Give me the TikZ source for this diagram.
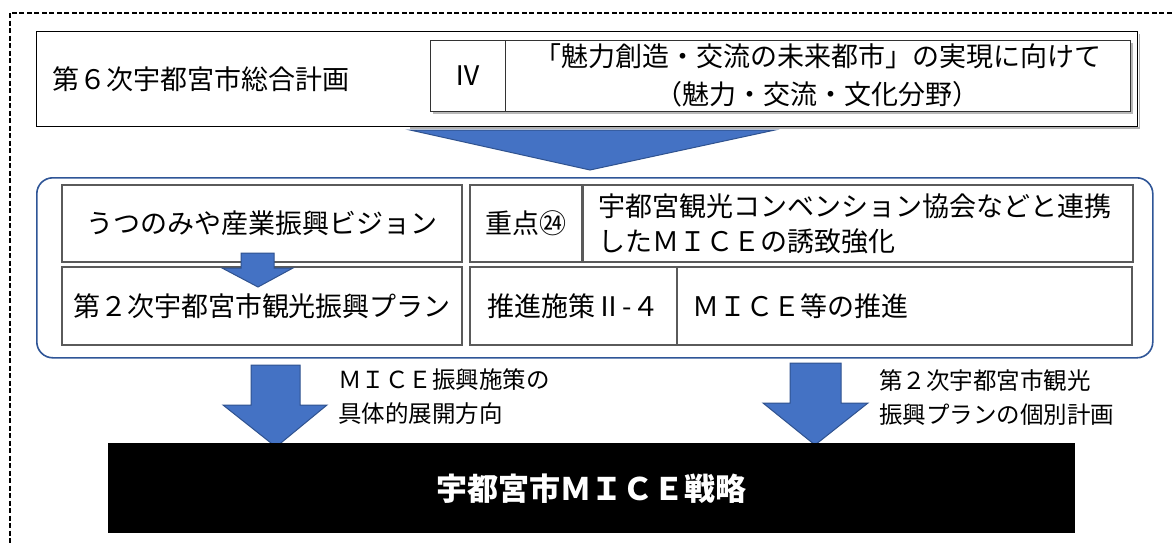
\documentclass[tikz,border=0pt]{standalone}
\usepackage{fontspec}
\setmainfont{Noto Sans CJK JP}
\usetikzlibrary{shadows}
\definecolor{arrowblue}{HTML}{4472C4}
\definecolor{arrowedge}{HTML}{2F528F}
\definecolor{frameblue}{HTML}{2F5597}
\definecolor{cellline}{HTML}{5A5A5A}
\begin{document}
\begin{tikzpicture}[x=1pt,y=-1pt,
  cell/.style={draw=cellline, line width=1.3pt, inner sep=0pt, outer sep=0pt, anchor=north west,
    font=\fontsize{27}{35}\selectfont},
  tcell/.style={cell, draw=black!80, fill=white, line width=1pt,
    drop shadow={shadow xshift=2.5pt, shadow yshift=-2.5pt, fill=gray!55, opacity=1}},
  blockarrow/.style={fill=arrowblue, draw=arrowedge, line width=1pt, line join=miter},
  lbl/.style={anchor=west, align=left, inner sep=0pt, font=\fontsize{23.5}{34}\selectfont},
]
\clip (0,0) rectangle (1173,542);
\fill[white] (0,0) rectangle (1173,542);
% outer dashed frame
\draw[dash pattern=on 5pt off 2.5pt, line width=1.1pt] (10,13) rectangle (1200,570);

% top plan box
\draw[gray!60, line width=1.5pt] (410,128) -- (1139.5,128) -- (1139.5,34);
\node[draw, fill=white, line width=1pt, inner sep=0pt, minimum width=1101pt, minimum height=95pt, anchor=north west] (plan) at (36,31) {};
\node[anchor=west, inner sep=0pt, font=\fontsize{27}{35}\selectfont] (plantext) at ([xshift=16pt]plan.west) {第６次宇都宮市総合計画};
\node[tcell, minimum width=75pt, minimum height=71pt] (iv) at (430,40) {Ⅳ};
\node[tcell, minimum width=625pt, minimum height=71pt, align=center, text width=625pt,
  font=\fontsize{27}{38}\selectfont] (goal) at (505,40) {「魅力創造・交流の未来都市」の実現に向けて\\（魅力・交流・文化分野）};

% big triangle arrow
\draw[blockarrow] (410,130) -- (775,130) -- (590,170) -- cycle;

% rounded group
\node[draw=frameblue, line width=1.6pt, rounded corners=16pt, inner sep=0pt, minimum width=1116pt,
  minimum height=180pt, anchor=north west] (group) at (36,177) {};

\node[cell, minimum width=400pt, minimum height=77pt] (vision) at (62,185) {うつのみや産業振興ビジョン};
\node[cell, minimum width=400pt, minimum height=78pt] (tplan) at (62,267) {第２次宇都宮市観光振興プラン};
\node[cell, minimum width=112pt, minimum height=77pt] (jyuten) at (470,185) {重点㉔};
\node[cell, minimum width=550pt, minimum height=77pt, align=left, text width=520pt, inner xsep=15pt] (kyoka) at (583,185) {宇都宮観光コンベンション協会などと連携\\したＭＩＣＥの誘致強化};
\node[cell, minimum width=207pt, minimum height=78pt] (suishin) at (470,267) {推進施策Ⅱ-４};
\node[cell, minimum width=455pt, minimum height=78pt, align=left, text width=425pt, inner xsep=15pt] (micep) at (677,267) {ＭＩＣＥ等の推進};

% small arrow between left cells
\draw[blockarrow] (241,253) -- (274,253) -- (274,268) -- (293,268) -- (258,287) -- (222,268) -- (241,268) -- cycle;

% lower arrows
\draw[blockarrow] (251,365) -- (300,365) -- (300,405) -- (327,405) -- (276,447) -- (223,405) -- (251,405) -- cycle;
\draw[blockarrow] (790,363) -- (841,363) -- (841,403) -- (868,403) -- (815,445) -- (763,403) -- (790,403) -- cycle;

\node[lbl] (lbl1) at (338,397) {ＭＩＣＥ振興施策の\\具体的展開方向};
\node[lbl] (lbl2) at (879,398) {第２次宇都宮市観光\\振興プランの個別計画};

% strategy box
\node[fill=black, text=white, inner sep=0pt, minimum width=967pt, minimum height=90pt, anchor=north west,
  font=\fontsize{31}{31}\selectfont\bfseries] (mice) at (108,443) {宇都宮市ＭＩＣＥ戦略};
\end{tikzpicture}
\end{document}
